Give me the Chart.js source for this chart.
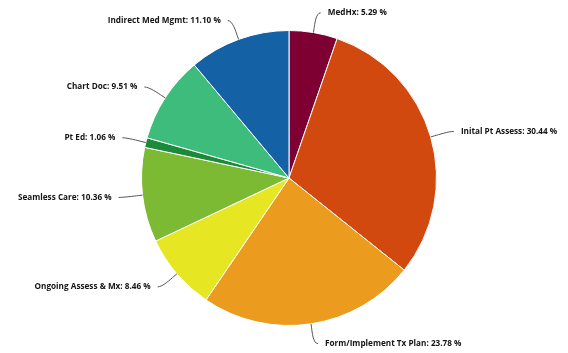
<!DOCTYPE html>
<html>
<head>
<meta charset="utf-8">
<script src="https://cdn.jsdelivr.net/npm/chart.js@4"></script>
<style>
  html, body { margin: 0; padding: 0; background: #fff; }
  #wrap { width: 568px; height: 353px; }
</style>
</head>
<body>
<div id="wrap"><canvas id="pieChart"></canvas></div>
<script>
const categories = ["MedHx", "Inital Pt Assess", "Form/Implement Tx Plan", "Ongoing Assess & Mx",
                    "Seamless Care", "Pt Ed", "Chart Doc", "Indirect Med Mgmt"];
const shares = [5.29, 30.44, 23.78, 8.46, 10.36, 1.06, 9.51, 11.10];
const sliceColors = ["#7e0033", "#d1490f", "#eb9b1e", "#e7e622", "#7dba33", "#1b8b3a", "#3ebc7c", "#1561a6"];

// draws highcharts-like outside labels with soft connectors
const outsideLabels = {
    id: "outsideLabels",
    afterDraw(chart) {
        const ctx = chart.ctx;
        const meta = chart.getDatasetMeta(0);
        ctx.save();
        ctx.font = "bold 8.2px 'Open Sans'";
        ctx.textBaseline = "middle";
        meta.data.forEach((arc, i) => {
            const mid = (arc.startAngle + arc.endAngle) / 2;
            const r = arc.outerRadius;
            const cx = arc.x, cy = arc.y;
            const cos = Math.cos(mid), sin = Math.sin(mid);
            const right = cos >= 0;
            const sign = right ? 1 : -1;
            const lx = cx + cos * (r + 20);
            const ly = cy + sin * (r + 20);
            const tx = cx + cos * r, ty = cy + sin * r;
            const bx = cx + cos * (r + 4), by = cy + sin * (r + 4);
            const sx = lx + sign * 4;

            ctx.strokeStyle = "#555";
            ctx.lineWidth = 1;
            ctx.beginPath();
            ctx.moveTo(sx, ly);
            ctx.bezierCurveTo(sx - sign * 5, ly, 2 * bx - tx, 2 * by - ty, bx, by);
            ctx.lineTo(tx, ty);
            ctx.stroke();

            ctx.fillStyle = "#141414";
            ctx.textAlign = right ? "left" : "right";
            ctx.fillText(categories[i] + ": " + shares[i].toFixed(2) + " %", lx + sign * 11, ly);
        });
        ctx.restore();
    }
};

new Chart(document.getElementById("pieChart"), {
    type: "pie",
    data: {
        labels: categories,
        datasets: [{
            data: shares,
            backgroundColor: sliceColors,
            borderColor: "#ffffff",
            borderWidth: 1
        }]
    },
    options: {
        responsive: true,
        maintainAspectRatio: false,
        animation: false,
        layout: { padding: { top: 30, bottom: 27, left: 10, right: 0 } },
        plugins: {
            legend: { display: false },
            tooltip: { enabled: false }
        }
    },
    plugins: [outsideLabels]
});
</script>
</body>
</html>
